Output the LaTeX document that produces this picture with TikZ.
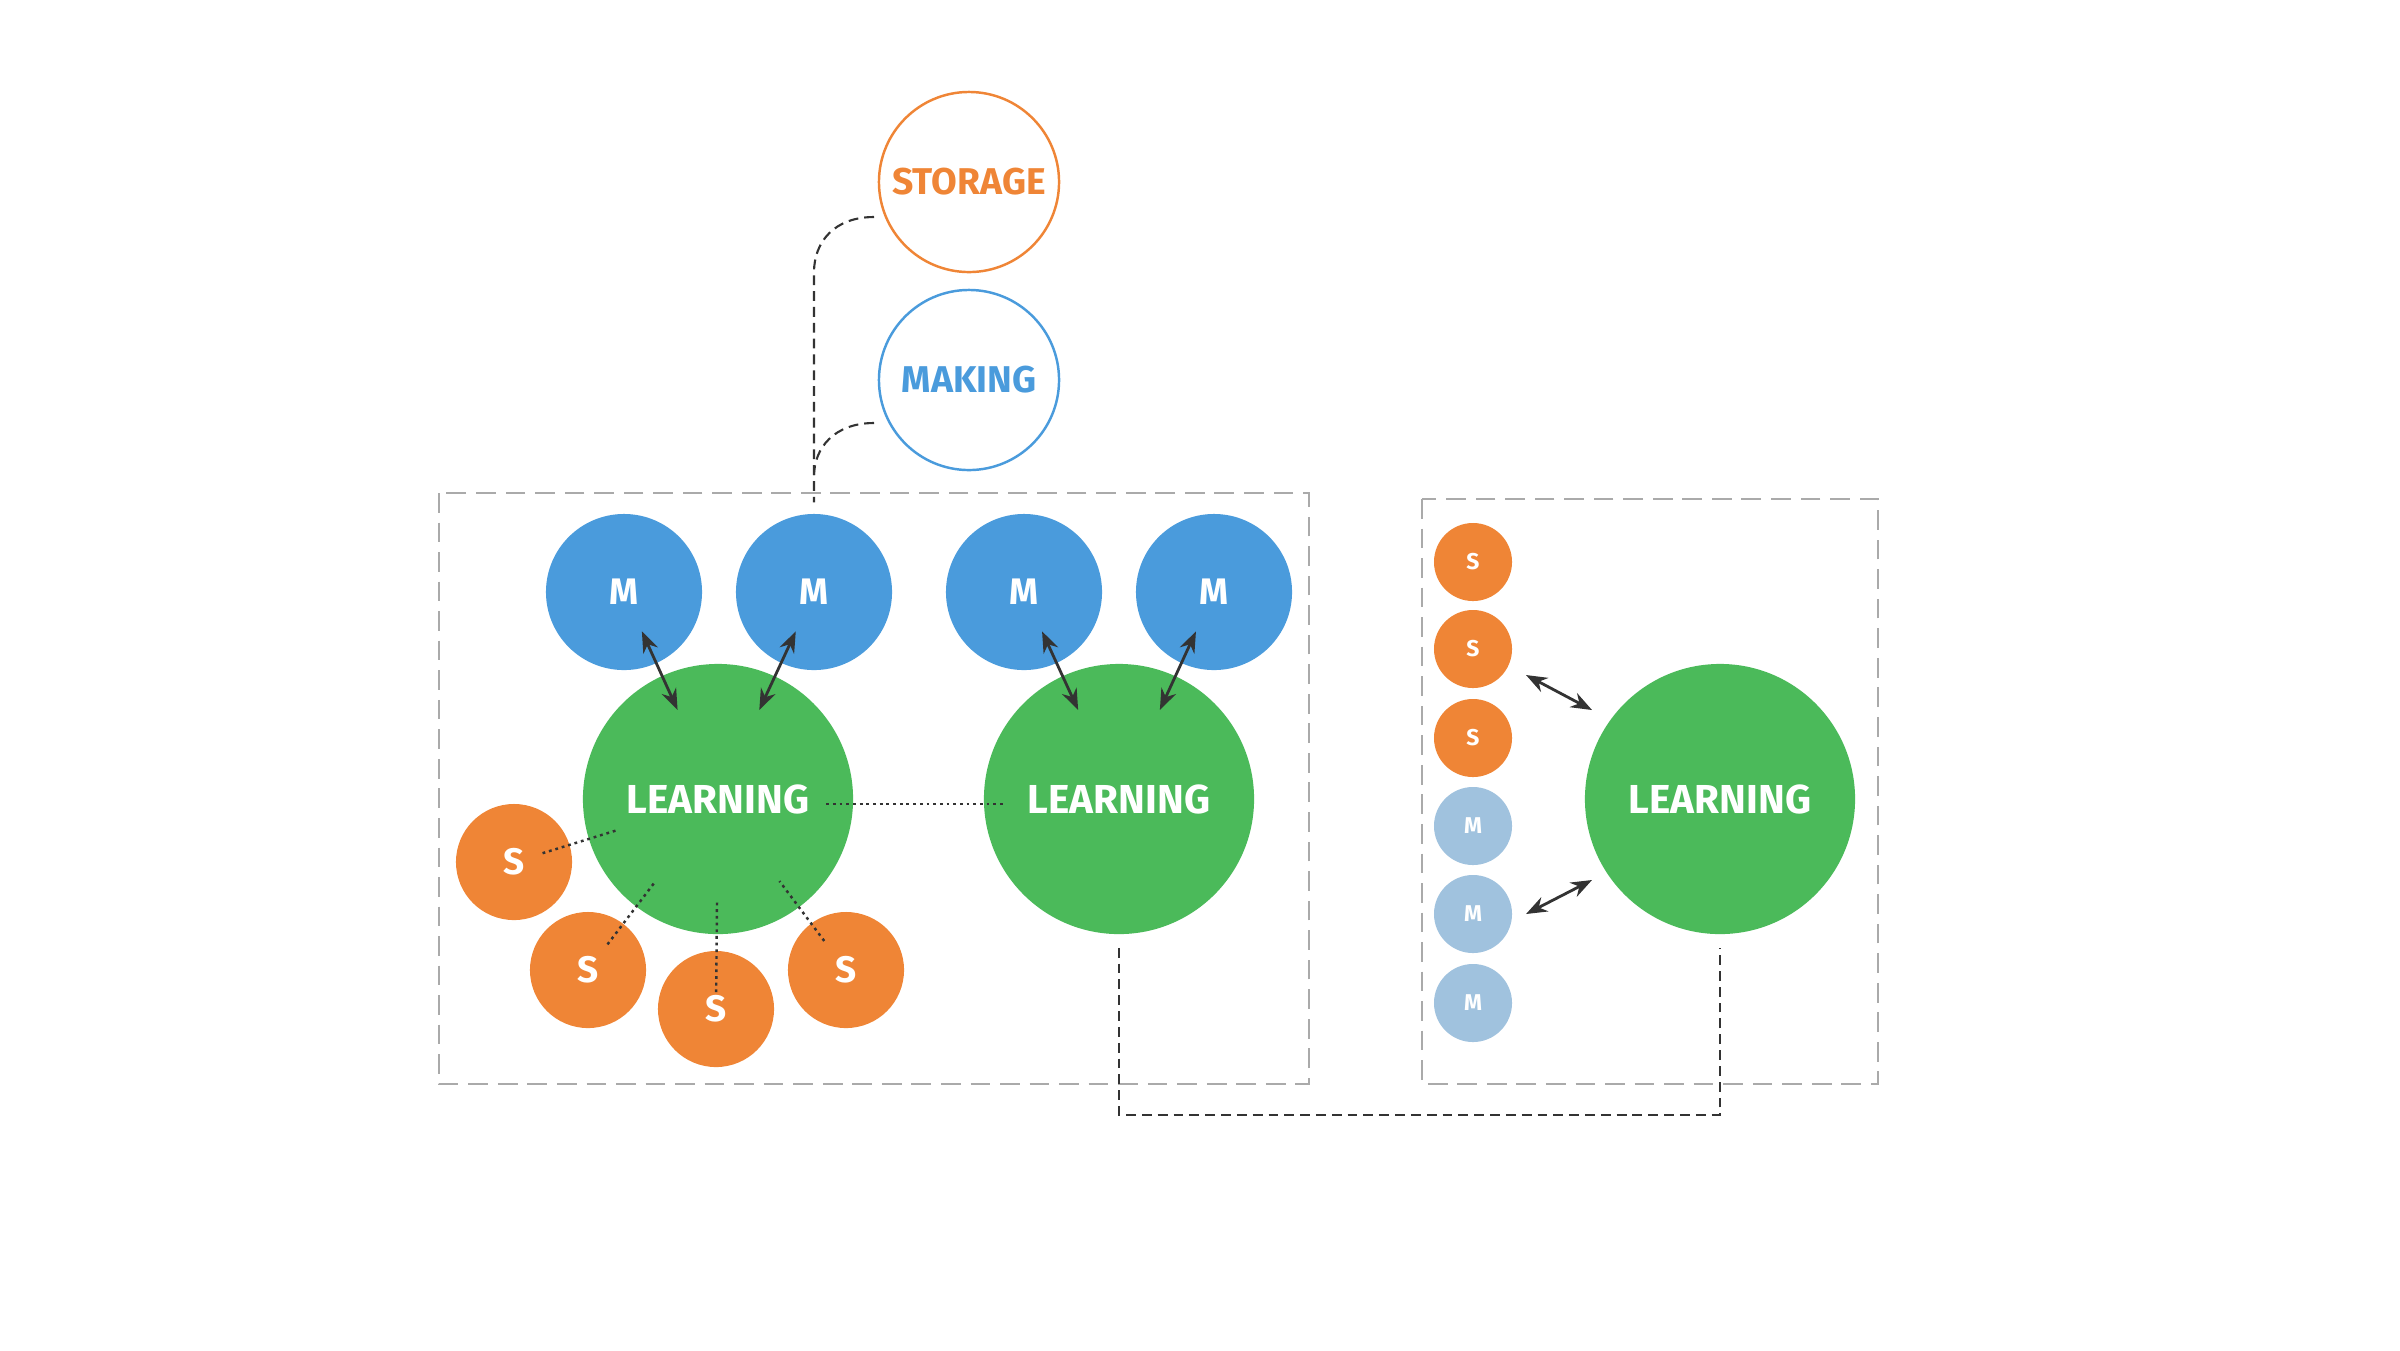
\documentclass[tikz,border=0pt]{standalone}
\usepackage{fontspec}
\setmainfont{Fira Sans}
\usetikzlibrary{arrows.meta,calc}
\definecolor{cblue}{HTML}{4A9BDC}
\definecolor{cgreen}{HTML}{4BBA5A}
\definecolor{corange}{HTML}{EF8536}
\definecolor{clight}{HTML}{A0C2DE}
\definecolor{cdark}{HTML}{333333}
\definecolor{cbox}{HTML}{AAAAAA}
\begin{document}
\begin{tikzpicture}[x=0.01cm,y=-0.01cm,
  blob/.style={circle,inner sep=0pt,text=white},
  learn/.style={blob,fill=cgreen,minimum size=2.7cm,font=\bfseries\fontsize{11.5}{13}\selectfont},
  mbig/.style={blob,fill=cblue,minimum size=1.56cm,font=\bfseries\fontsize{10.5}{12}\selectfont},
  sbig/.style={blob,fill=corange,minimum size=1.16cm,font=\bfseries\fontsize{10.5}{12}\selectfont},
  ssmall/.style={blob,fill=corange,minimum size=0.78cm,font=\bfseries\fontsize{6.5}{7}\selectfont},
  msmall/.style={blob,fill=clight,minimum size=0.78cm,font=\bfseries\fontsize{6.5}{7}\selectfont},
  ring/.style={circle,inner sep=0pt,draw,line width=0.7pt,minimum size=1.8cm,font=\bfseries\fontsize{10.6}{13}\selectfont},
  boxline/.style={draw=cbox,line width=0.6pt,dash pattern=on 5.6pt off 2.8pt},
  link/.style={draw=cdark,line width=0.6pt,dash pattern=on 2.8pt off 1.7pt},
  dots/.style={draw=cdark,line width=0.7pt,dash pattern=on 0.8pt off 1.1pt},
  biarrow/.style={draw=cdark,line width=0.8pt,{Stealth[length=6pt,width=4.5pt]}-{Stealth[length=6pt,width=4.5pt]}},
]
\useasboundingbox (0,0) rectangle (2400,1350);
% boxes
\draw[boxline] (439,493) rectangle (1309,1084);
\draw[boxline] (1422,499) rectangle (1878,1084);
% top rings
\node[ring,draw=corange,text=corange] (storage) at (969,182) {STORAGE};
\node[ring,draw=cblue,text=cblue] (making) at (969,380) {MAKING};
% left group
\node[mbig] (m1) at (624,592) {M};
\node[mbig] (m2) at (814,592) {M};
\node[mbig] (m3) at (1024,592) {M};
\node[mbig] (m4) at (1214,592) {M};
\node[learn] (L1) at (718,799) {LEARNING};
\node[learn] (L2) at (1119,799) {LEARNING};
\node[sbig] (s1) at (514,862) {S};
\node[sbig] (s2) at (588,970) {S};
\node[sbig] (s3) at (716,1009) {S};
\node[sbig] (s4) at (846,970) {S};
% right group
\node[ssmall] (r1) at (1473,562) {S};
\node[ssmall] (r2) at (1473,649) {S};
\node[ssmall] (r3) at (1473,738) {S};
\node[msmall] (r4) at (1473,826) {M};
\node[msmall] (r5) at (1473,914) {M};
\node[msmall] (r6) at (1473,1003) {M};
\node[learn] (L3) at (1720,799) {LEARNING};
% connectors from rings
\coordinate (mtop) at ($(m2.north)+(0,-11)$);
\draw[link] ($(storage.center)+(-95,35)$) .. controls +(-40,0) and +(0,-30) .. ($(mtop)+(0,-230)$) -- (mtop);
\draw[link] ($(making.center)+(-95,43)$) .. controls +(-40,0) and +(0,-28) .. ($(mtop)+(0,-26)$);
% arrows M <-> learning
\draw[biarrow] ($(m1)!0.19!(L1)$) -- ($(m1)!0.57!(L1)$);
\draw[biarrow] ($(m2)!0.19!(L1)$) -- ($(m2)!0.57!(L1)$);
\draw[biarrow] ($(m3)!0.19!(L2)$) -- ($(m3)!0.57!(L2)$);
\draw[biarrow] ($(m4)!0.19!(L2)$) -- ($(m4)!0.57!(L2)$);
% dotted links
\draw[dots] ($(L1)!0.27!(L2)+(0,5)$) -- ($(L1)!0.71!(L2)+(0,5)$);
\draw[dots] ($(s1)!0.14!(L1)$) -- ($(s1)!0.5!(L1)$);
\draw[dots] ($(s2)!0.15!(L1)$) -- ($(s2)!0.52!(L1)$);
\draw[dots] ($(s3)!0.08!(L1)$) -- ($(s3)!0.52!(L1)$);
\draw[dots] ($(s4)!0.17!(L1)$) -- ($(s4)!0.52!(L1)$);
% right arrows
\draw[biarrow] ($(r2)+(53,26)$) -- ($(L3)+(-128,-89)$);
\draw[biarrow] ($(r5)+(53,0)$) -- ($(L3)+(-128,81)$);
% bottom link
\draw[link] ($(L2.south)+(0,13)$) -- ($(L2.south)+(0,180)$) -| ($(L3.south)+(0,13)$);
\end{tikzpicture}
\end{document}
